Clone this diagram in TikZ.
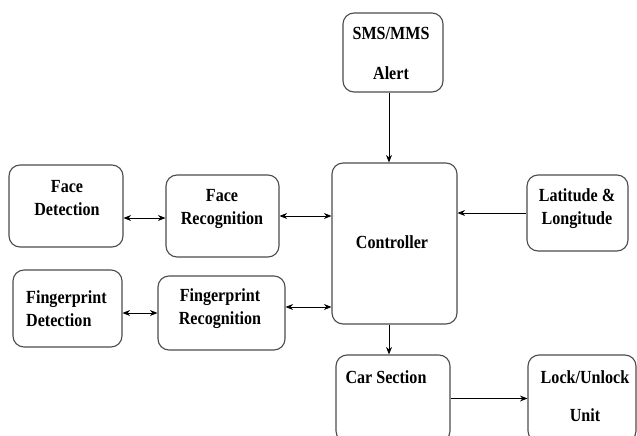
\documentclass[tikz,border=0pt]{standalone}
\usepackage{fontspec}
\setmainfont{Liberation Serif}[FakeStretch=0.87]
\usetikzlibrary{arrows.meta}
\tikzset{
 box/.style={draw=black!70,line width=1.1pt,rounded corners=11pt,fill=white,inner sep=0pt},
 lbl/.style={font=\fontsize{18.5}{23}\selectfont\bfseries,align=center,inner sep=0pt},
 tip/.tip={Stealth[length=7.5pt,width=6pt]},
 conn/.style={line width=0.8pt,-tip},
 bi/.style={line width=0.8pt,tip-tip}
}
\begin{document}
\begin{tikzpicture}[x=1pt,y=-1pt]
\useasboundingbox (0,0) rectangle (637,436);
\clip (0,0) rectangle (637,436);
% boxes
\node[box,minimum width=100pt,minimum height=79pt] (sms) at (393,52.5) {};
\node[box,minimum width=125pt,minimum height=161pt] (ctrl) at (394.5,243.5) {};
\node[box,minimum width=101pt,minimum height=76pt] (lat) at (577.5,213) {};
\node[box,minimum width=114pt,minimum height=82pt] (fd) at (66,206) {};
\node[box,minimum width=113pt,minimum height=82pt] (fr) at (222.5,216) {};
\node[box,minimum width=109pt,minimum height=77pt] (fpd) at (67.5,308.5) {};
\node[box,minimum width=127pt,minimum height=74pt] (fpr) at (221.5,313) {};
\node[box,minimum width=114pt,minimum height=87pt] (car) at (393,398.5) {};
\node[box,minimum width=108pt,minimum height=87pt] (lock) at (582,398.5) {};
% texts
\node[lbl] (smsT) at (391,53) {SMS/MMS\\[17pt]Alert};
\node[lbl] (ctrlT) at (392,242) {Controller};
\node[lbl] (latT) at (577,208.5) {Latitude \&\\Longitude};
\node[lbl] (fdT) at (67,198.5) {Face\\Detection};
\node[lbl] (frT) at (222,208.5) {Face\\Recognition};
\node[lbl,align=left,anchor=west] (fpdT) at (26,309) {Fingerprint\\Detection};
\node[lbl] (fprT) at (220,308.5) {Fingerprint\\Recognition};
\node[lbl] (carT) at (386,377) {Car Section};
\node[lbl] (lockT) at (585,396) {Lock/Unlock\\[15pt]Unit};
% helper coordinates
\coordinate (vx) at (389,0);
\coordinate (hy1) at (0,218);
\coordinate (hy2) at (0,307);
% connectors
\draw[conn] (sms.south -| vx) -- (ctrl.north -| vx);
\draw[conn] (ctrl.south -| vx) -- (car.north -| vx);
\draw[conn] (car.east) -- (lock.west);
\draw[conn] (lat.west) -- (lat.west -| ctrl.east);
\draw[bi] (fd.east |- hy1) -- (fr.west |- hy1);
\draw[bi] (fr.east) -- (fr.east -| ctrl.west);
\draw[bi] (fpr.west) -- (fpr.west -| fpd.east);
\draw[bi] (fpr.east |- hy2) -- (ctrl.west |- hy2);
\end{tikzpicture}
\end{document}
